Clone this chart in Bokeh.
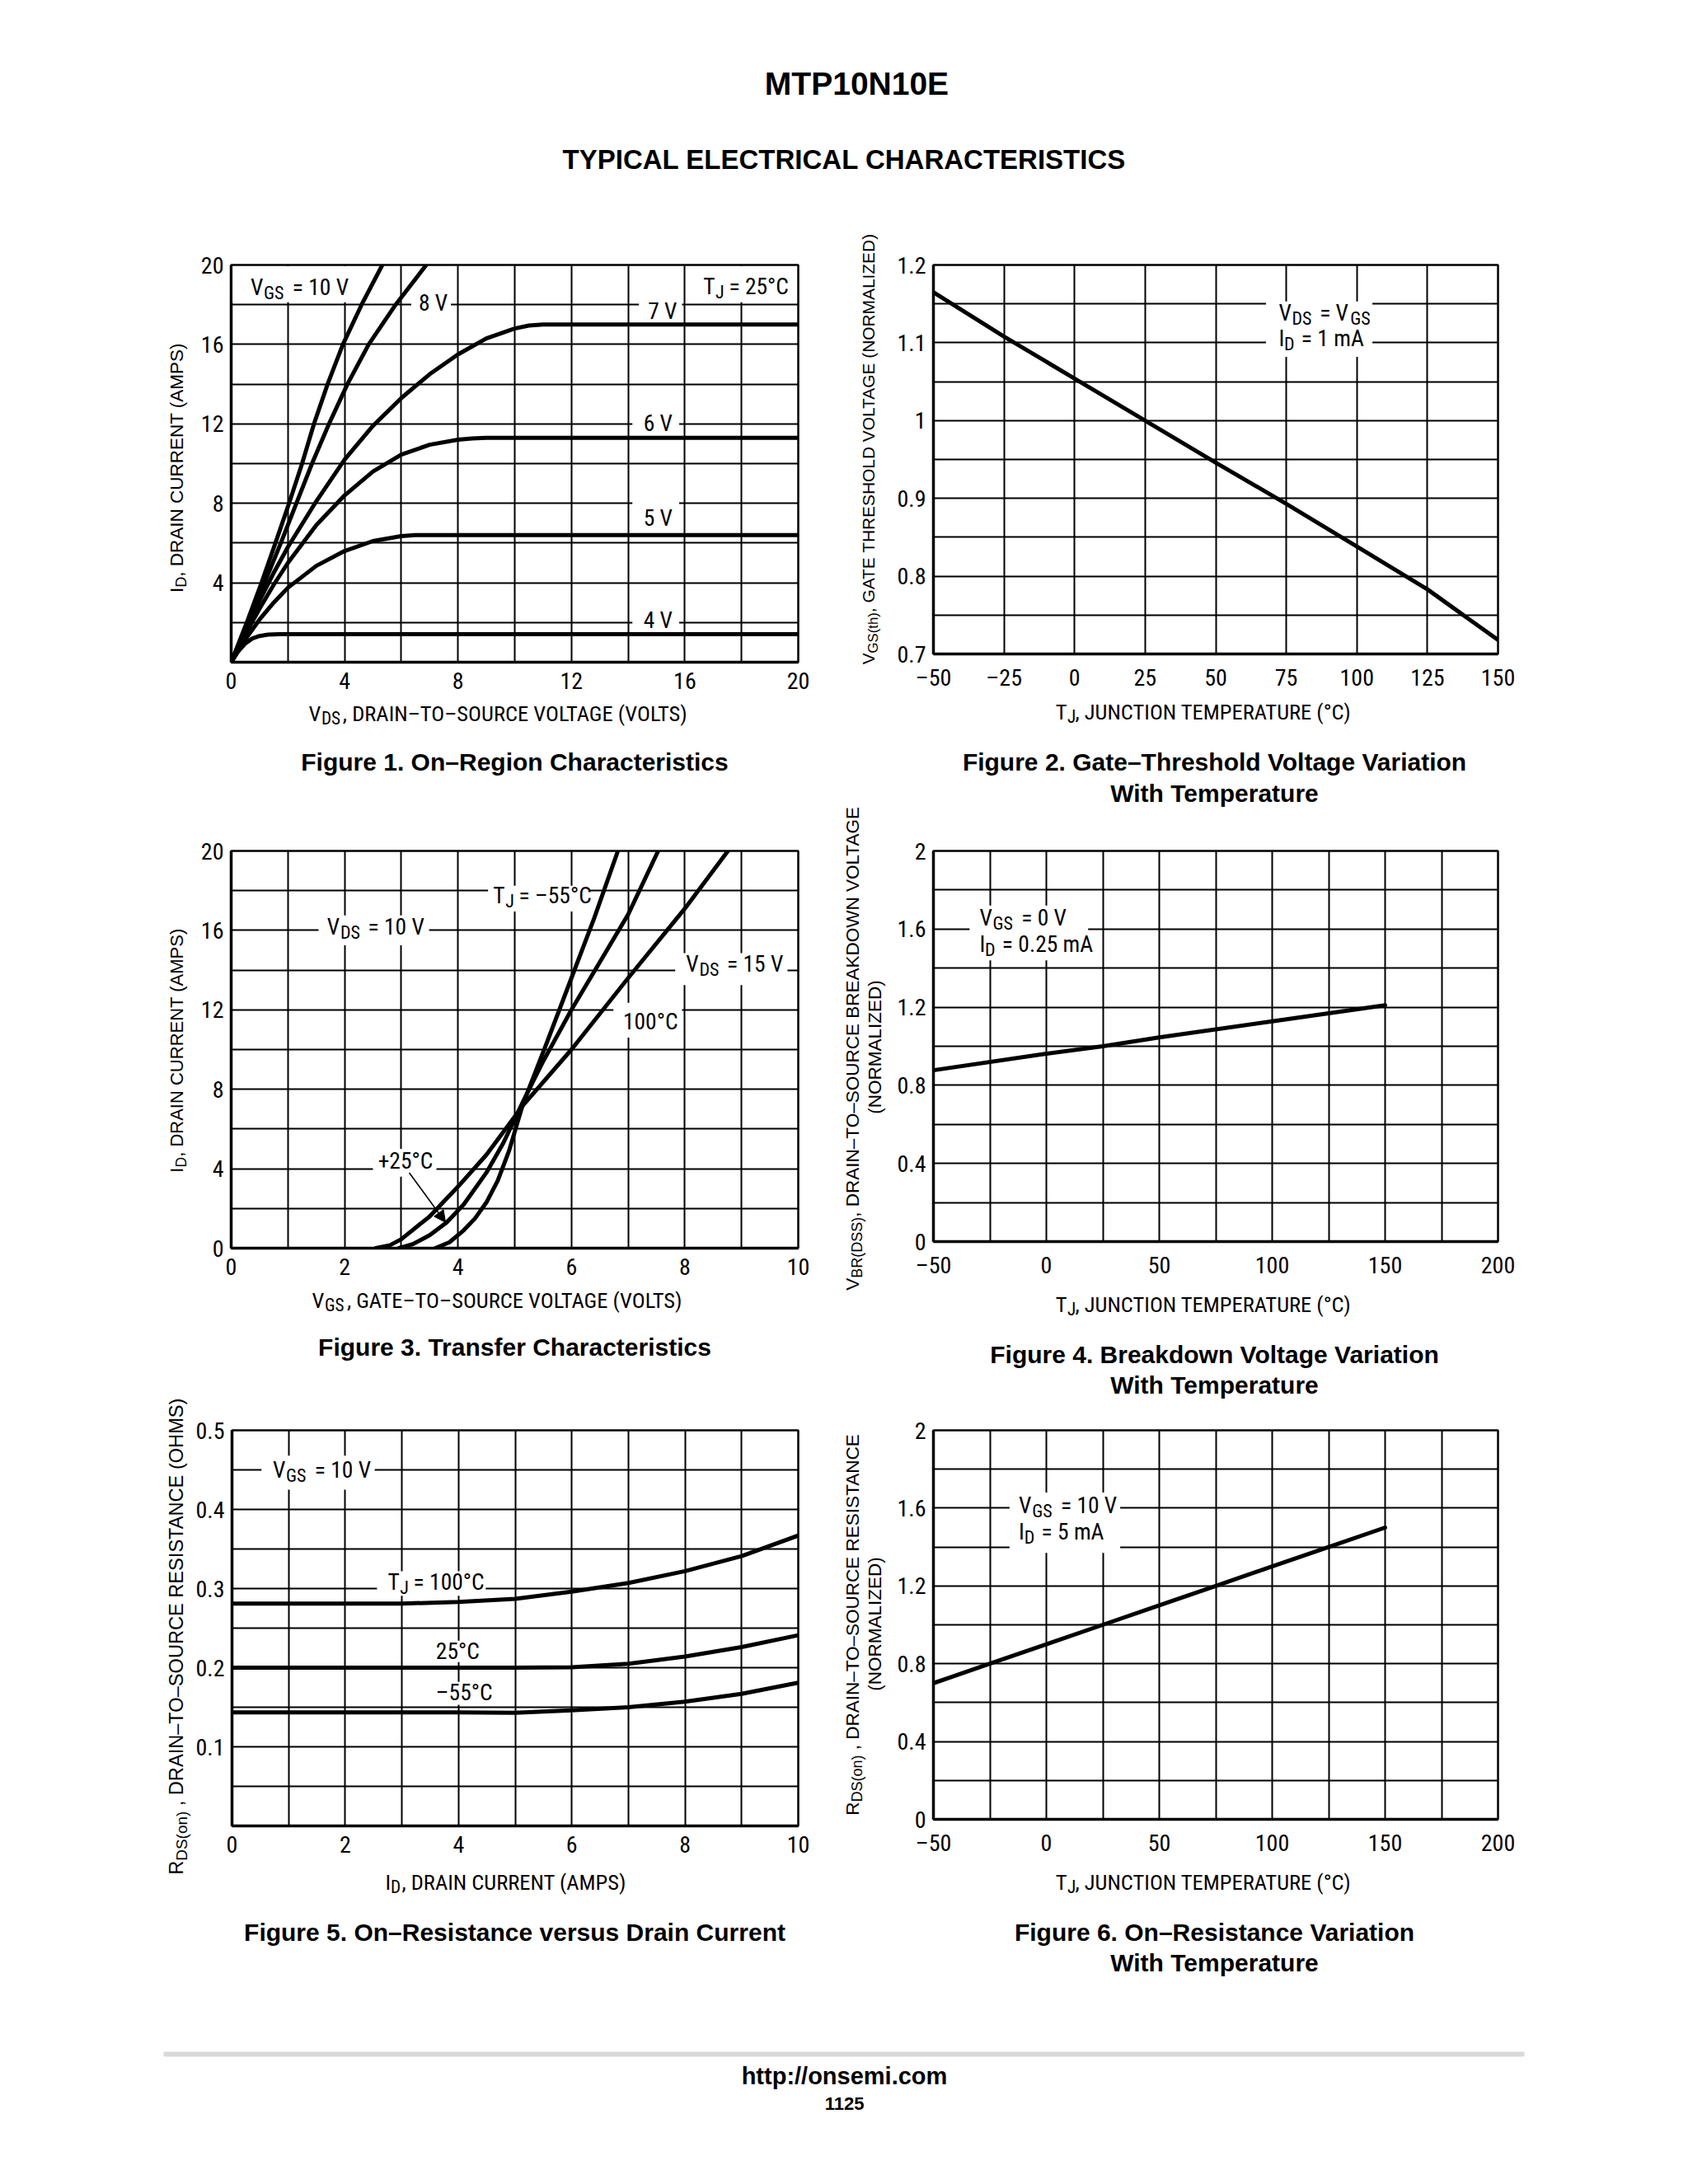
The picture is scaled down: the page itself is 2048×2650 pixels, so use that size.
import subprocess
from math import pi

from bokeh.plotting import figure
from bokeh.models import FixedTicker, Range1d, Label, BoxAnnotation, Arrow, NormalHead
from bokeh.layouts import column, row
from bokeh.embed import file_html
from bokeh.resources import INLINE

# ======================= DATA =======================
# Figure 1. On-Region Characteristics (TJ = 25 C): VDS (V) -> ID (A)
f1_vgs10_vds = [0, 0.55, 1.07, 1.56, 2.04, 2.5, 2.92, 3.4, 3.94, 4.6, 5.33]
f1_vgs10_id = [0, 2, 4, 6, 8, 10, 12, 14, 16, 18, 20]
f1_vgs8_vds = [0, 0.6, 1.18, 1.75, 2.3, 2.85, 3.45, 4.1, 4.85, 5.8, 6.88]
f1_vgs8_id = [0, 2, 4, 6, 8, 10, 12, 14, 16, 18, 20]
f1_vgs7_vds = [0, 0.5, 1, 1.5, 2, 3, 4, 5, 6, 7, 8, 9, 10, 10.5, 11, 12, 20]
f1_vgs7_id = [0, 1.6, 3.1, 4.5, 5.8, 8.1, 10.2, 11.9, 13.3, 14.5, 15.5, 16.3, 16.8, 16.95, 17.0, 17.0, 17.0]
f1_vgs6_vds = [0, 0.5, 1, 1.5, 2, 3, 4, 5, 6, 7, 8, 8.5, 9, 20]
f1_vgs6_id = [0, 1.4, 2.7, 3.9, 5.0, 6.9, 8.4, 9.6, 10.45, 10.95, 11.2, 11.27, 11.3, 11.3]
f1_vgs5_vds = [0, 0.5, 1, 1.5, 2, 3, 4, 5, 6, 6.5, 20]
f1_vgs5_id = [0, 1.15, 2.15, 3.0, 3.75, 4.85, 5.6, 6.1, 6.35, 6.4, 6.4]
f1_vgs4_vds = [0, 0.25, 0.5, 0.75, 1.0, 1.3, 1.7, 20]
f1_vgs4_id = [0, 0.55, 0.95, 1.2, 1.32, 1.39, 1.41, 1.41]

# Figure 2. Gate-Threshold Voltage Variation With Temperature
f2_tj = [-50, -25, 0, 25, 50, 75, 100, 125, 150]
f2_vth = [1.165, 1.108, 1.054, 1.0, 0.946, 0.893, 0.838, 0.783, 0.718]

# Figure 3. Transfer Characteristics: VGS (V) -> ID (A)
f3_m55_vgs = [3.6, 3.85, 4.1, 4.3, 4.5, 4.7, 4.9, 5.15, 5.56, 6.0, 6.4, 6.82]
f3_m55_id = [0, 0.3, 0.9, 1.5, 2.3, 3.4, 4.9, 7.3, 10.3, 13.6, 16.6, 20]
f3_25_vgs = [2.96, 3.2, 3.5, 3.8, 4.1, 4.5, 4.8, 5.15, 5.5, 6.0, 6.5, 7.0, 7.53]
f3_25_id = [0, 0.2, 0.65, 1.3, 2.2, 3.8, 5.3, 7.4, 9.4, 12.0, 14.4, 16.8, 20]
f3_100_vgs = [2.55, 2.8, 3.0, 3.5, 4.0, 4.5, 5.15, 6.0, 7.0, 8.0, 8.76]
f3_100_id = [0, 0.15, 0.45, 1.6, 3.1, 4.7, 7.2, 10.0, 13.6, 17.1, 20]

# Figure 4. Breakdown Voltage Variation With Temperature
f4_tj = [-50, 0, 25, 50, 100, 150]
f4_bvdss = [0.877, 0.962, 1.0, 1.045, 1.128, 1.21]

# Figure 5. On-Resistance versus Drain Current (VGS = 10 V)
f5_id = [0, 1, 2, 3, 4, 5, 6, 7, 8, 9, 10]
f5_r100 = [0.281, 0.281, 0.281, 0.281, 0.283, 0.287, 0.296, 0.307, 0.322, 0.341, 0.367]
f5_r25 = [0.2, 0.2, 0.2, 0.2, 0.2, 0.2, 0.2005, 0.205, 0.214, 0.226, 0.241]
f5_rm55 = [0.1435, 0.1435, 0.1435, 0.1435, 0.1435, 0.143, 0.146, 0.150, 0.157, 0.167, 0.181]

# Figure 6. On-Resistance Variation With Temperature
f6_tj = [-50, -25, 0, 25, 50, 75, 100, 125, 150]
f6_rds = [0.70, 0.80, 0.90, 1.0, 1.1, 1.2, 1.3, 1.4, 1.5]

# Axis ticks / tick labels / grid positions
f1_xticks = [0, 4, 8, 12, 16, 20]
f1_xlabels = ["0", "4", "8", "12", "16", "20"]
f1_yticks = [4, 8, 12, 16, 20]
f1_ylabels = ["4", "8", "12", "16", "20"]
f1_xgrid = [0, 2, 4, 6, 8, 10, 12, 14, 16, 18, 20]
f1_ygrid = [0, 2, 4, 6, 8, 10, 12, 14, 16, 18, 20]

f2_xticks = [-50, -25, 0, 25, 50, 75, 100, 125, 150]
f2_xlabels = ["–50", "–25", "0", "25", "50", "75", "100", "125", "150"]
f2_yticks = [0.7, 0.8, 0.9, 1, 1.1, 1.2]
f2_ylabels = ["0.7", "0.8", "0.9", "1", "1.1", "1.2"]
f2_xgrid = [-50, -25, 0, 25, 50, 75, 100, 125, 150]
f2_ygrid = [0.7, 0.75, 0.8, 0.85, 0.9, 0.95, 1.0, 1.05, 1.1, 1.15, 1.2]

f3_xticks = [0, 2, 4, 6, 8, 10]
f3_xlabels = ["0", "2", "4", "6", "8", "10"]
f3_yticks = [0, 4, 8, 12, 16, 20]
f3_ylabels = ["0", "4", "8", "12", "16", "20"]
f3_xgrid = [0, 1, 2, 3, 4, 5, 6, 7, 8, 9, 10]
f3_ygrid = [0, 2, 4, 6, 8, 10, 12, 14, 16, 18, 20]

f46_xticks = [-50, 0, 50, 100, 150, 200]
f46_xlabels = ["–50", "0", "50", "100", "150", "200"]
f46_yticks = [0, 0.4, 0.8, 1.2, 1.6, 2]
f46_ylabels = ["0", "0.4", "0.8", "1.2", "1.6", "2"]
f46_xgrid = [-50, -25, 0, 25, 50, 75, 100, 125, 150, 175, 200]
f46_ygrid = [0, 0.2, 0.4, 0.6, 0.8, 1.0, 1.2, 1.4, 1.6, 1.8, 2.0]

f5_xticks = [0, 2, 4, 6, 8, 10]
f5_xlabels = ["0", "2", "4", "6", "8", "10"]
f5_yticks = [0.1, 0.2, 0.3, 0.4, 0.5]
f5_ylabels = ["0.1", "0.2", "0.3", "0.4", "0.5"]
f5_xgrid = [0, 1, 2, 3, 4, 5, 6, 7, 8, 9, 10]
f5_ygrid = [0, 0.05, 0.1, 0.15, 0.2, 0.25, 0.3, 0.35, 0.4, 0.45, 0.5]

# ======================= FONTS =======================
def _families():
    fams = set()
    try:
        out = subprocess.run(["fc-list", ":", "family"], capture_output=True,
                             text=True, timeout=30).stdout
        for line in out.splitlines():
            for f in line.split(","):
                fams.add(f.strip().lower())
    except Exception:
        pass
    return fams


_fams = _families()
NARROW, NSCALE, NSIZE = "Liberation Sans", 1.0, 0.86
for _name, _sc in [("Liberation Sans Narrow", 0.82), ("Arial Narrow", 0.82),
                   ("Roboto Condensed", 0.88), ("DejaVu Sans Condensed", 0.96)]:
    if _name.lower() in _fams:
        NARROW, NSCALE, NSIZE = _name, _sc, 1.0
        break
SANS = "Liberation Sans"

AW = {' ': 278, '!': 278, '(': 333, ')': 333, ',': 278, '-': 333, '.': 278, '/': 278,
      ':': 278, '=': 584, '+': 584, '–': 556, '°': 400}
for _d in "0123456789":
    AW[_d] = 556
AW.update({'A': 667, 'B': 667, 'C': 722, 'D': 722, 'E': 667, 'F': 611, 'G': 778, 'H': 722,
           'I': 278, 'J': 500, 'K': 667, 'L': 556, 'M': 833, 'N': 722, 'O': 778, 'P': 667,
           'Q': 778, 'R': 722, 'S': 667, 'T': 611, 'U': 722, 'V': 667, 'W': 944, 'X': 667,
           'Y': 667, 'Z': 611, 'a': 556, 'b': 556, 'c': 500, 'd': 556, 'e': 556, 'f': 278,
           'g': 556, 'h': 556, 'i': 222, 'j': 222, 'k': 500, 'l': 222, 'm': 833, 'n': 556,
           'o': 556, 'p': 556, 'q': 556, 'r': 333, 's': 500, 't': 278, 'u': 556, 'v': 500,
           'w': 722, 'x': 500, 'y': 500, 'z': 500})


def tw(s, size, scale=1.0):
    return sum(AW.get(ch, 556) for ch in s) * size * scale / 1000.0


SUB_R = 0.8
SUB_DY = 0.25
BASE_FIX = 0.27           # measured baseline correction (fraction of font size)
TICK_SIZE = 28 * NSIZE
ANN_SIZE = 27.5 * NSIZE
XLAB_SIZE = 26.5 * NSIZE
CAP_SIZE = 30


def no_align(f):
    try:
        f.frame_align = False
    except Exception:
        pass


def put_runs(p, x, y, runs, size, font, scale, angle=0.0, anchor="left"):
    widths = []
    for t, sub in runs:
        fs = size * SUB_R if sub else size
        widths.append(tw(t, fs, scale))
    total = sum(widths)
    pos = -total / 2.0 if anchor == "center" else 0.0
    fix = size * BASE_FIX
    for (t, sub), w in zip(runs, widths):
        fs = size * SUB_R if sub else size
        drop = size * SUB_DY if sub else 0.0
        stripped = t.lstrip(" ")
        lead = tw(" " * (len(t) - len(stripped)), fs, scale)
        if angle == 0:
            xo, yo = pos + lead, -drop + fix
        else:
            xo, yo = drop - fix, pos + lead
        p.add_layout(Label(x=x, y=y, x_offset=xo, y_offset=yo,
                           text=stripped, angle=angle, text_font=font,
                           text_font_size=f"{fs:.1f}px", text_color="black",
                           text_align="left", text_baseline="alphabetic"))
        pos += w


def strip(w, h, bl=0, br=0):
    """A text-only panel whose data coordinates are its own (frame) pixels."""
    fw = w - bl - br
    f = figure(width=w, height=h, x_range=Range1d(0, fw), y_range=Range1d(0, h),
               output_backend="svg", toolbar_location=None, title=None,
               x_axis_type=None, y_axis_type=None, min_border=0,
               min_border_left=bl, min_border_right=br)
    f.outline_line_color = None
    f.background_fill_color = "white"
    f.border_fill_color = "white"
    no_align(f)
    return f


def make_plot(w, h, bl, br, bt, bb, xr, yr, xgrid, ygrid, xticks, xtl, yticks, ytl):
    p = figure(width=w, height=h, x_range=Range1d(*xr), y_range=Range1d(*yr),
               output_backend="svg", toolbar_location=None, title=None,
               min_border_left=bl, min_border_right=br, min_border_top=bt,
               min_border_bottom=bb)
    no_align(p)
    p.background_fill_color = "white"
    p.border_fill_color = "white"
    p.outline_line_color = "black"
    p.outline_line_width = 2.5
    p.outline_line_alpha = 1.0
    p.xaxis.ticker = FixedTicker(ticks=xticks, minor_ticks=[])
    p.yaxis.ticker = FixedTicker(ticks=yticks, minor_ticks=[])
    p.xaxis.major_label_overrides = dict(zip(xticks, xtl))
    p.yaxis.major_label_overrides = dict(zip(yticks, ytl))
    for ax in (p.xaxis[0], p.yaxis[0]):
        ax.major_tick_line_color = None
        ax.minor_tick_line_color = None
        ax.major_tick_in = 0
        ax.major_tick_out = 0
        ax.axis_line_width = 3.5
        ax.axis_line_color = "black"
        ax.major_label_text_font = NARROW
        ax.major_label_text_font_size = f"{TICK_SIZE:.1f}px"
        ax.major_label_text_color = "black"
    p.xaxis.major_label_standoff = 12
    p.yaxis.major_label_standoff = 9
    p.xgrid.ticker = FixedTicker(ticks=xgrid, minor_ticks=[])
    p.ygrid.ticker = FixedTicker(ticks=ygrid, minor_ticks=[])
    p.grid.grid_line_color = "black"
    p.grid.grid_line_width = 2
    p.grid.grid_line_alpha = 1.0
    return p


def curve(p, x, y):
    p.line(x, y, line_width=5, line_color="black", line_join="round", line_cap="round")


def white_box(p, l, r, b, t):
    p.add_layout(BoxAnnotation(left=l, right=r, bottom=b, top=t, fill_color="white",
                               fill_alpha=1.0, line_color=None))


def ann(p, x, y, runs):
    put_runs(p, x, y, runs, ANN_SIZE, NARROW, NSCALE)


FRAME_W = 688


def bottom_panel(w, h, bl, br, xlab_runs, xlab_y, captions):
    b = strip(w, h, bl, br)
    cx = FRAME_W / 2.0
    put_runs(b, cx, xlab_y, xlab_runs, XLAB_SIZE, NARROW, NSCALE, anchor="center")
    for t, yy in captions:
        b.add_layout(Label(x=cx, y=yy, text=t, text_align="center", text_baseline="middle",
                           text_font=SANS, text_font_style="bold",
                           text_font_size=f"{CAP_SIZE}px", text_color="black"))
    return b


def ylabel_panel(w, h, lines):
    f = strip(w, h)
    for runs, x, cy, size in lines:
        put_runs(f, x, cy, runs, size, SANS, 1.0, angle=pi / 2, anchor="center")
    return f


# Geometry (pixels)
COL_H = 2190              # height of each column of plots
LW_Y, LW_P = 234, 774     # left column: y-label strip, plot figures
RW_Y, RW_P = 77, 955      # right column
L_BL, L_BR = 46, 40
R_BL, R_BR = 44, 223
AX_B = 40                 # room for x tick labels under each frame

# ======================= FIGURE 1 =======================
p1 = make_plot(LW_P, 613, L_BL, L_BR, 91, AX_B, (0, 20), (0, 20), f1_xgrid, f1_ygrid,
               f1_xticks, f1_xlabels, f1_yticks, f1_ylabels)
for xs, ys in [(f1_vgs10_vds, f1_vgs10_id), (f1_vgs8_vds, f1_vgs8_id), (f1_vgs7_vds, f1_vgs7_id),
               (f1_vgs6_vds, f1_vgs6_id), (f1_vgs5_vds, f1_vgs5_id), (f1_vgs4_vds, f1_vgs4_id)]:
    curve(p1, xs, ys)
for bx in [(0.05, 4.15, 18.12, 19.94), (6.35, 7.75, 17.55, 18.6), (14.38, 15.9, 17.2, 18.35),
           (14.15, 15.8, 11.55, 12.5), (14.15, 15.8, 6.75, 8.2), (14.15, 15.8, 1.65, 2.7),
           (16.4, 19.95, 18.12, 19.94)]:
    white_box(p1, *bx)
ann(p1, 0.68, 18.58, [("V", 0), ("GS", 1), (" = 10 V", 0)])
ann(p1, 6.61, 17.79, [("8 V", 0)])
ann(p1, 14.7, 17.35, [("7 V", 0)])
ann(p1, 14.54, 11.73, [("6 V", 0)])
ann(p1, 14.54, 6.97, [("5 V", 0)])
ann(p1, 14.54, 1.82, [("4 V", 0)])
ann(p1, 16.65, 18.62, [("T", 0), ("J", 1), (" = 25°C", 0)])
b1 = bottom_panel(LW_P, 132, L_BL, L_BR,
                  [("V", 0), ("DS", 1), (", DRAIN–TO–SOURCE VOLTAGE (VOLTS)", 0)],
                  103, [("Figure 1. On–Region Characteristics", 51)])

# ======================= FIGURE 2 =======================
p2 = make_plot(RW_P, 611, R_BL, R_BR, 91, AX_B, (-50, 150), (0.7, 1.2), f2_xgrid, f2_ygrid,
               f2_xticks, f2_xlabels, f2_yticks, f2_ylabels)
curve(p2, f2_tj, f2_vth)
white_box(p2, 67.8, 105.5, 1.082, 1.153)
ann(p2, 72.3, 1.1305, [("V", 0), ("DS", 1), (" = V", 0), ("GS", 1)])
ann(p2, 72.3, 1.0978, [("I", 0), ("D", 1), (" = 1 mA", 0)])
b2 = bottom_panel(RW_P, 141, R_BL, R_BR,
                  [("T", 0), ("J", 1), (", JUNCTION TEMPERATURE (°C)", 0)],
                  112, [("Figure 2. Gate–Threshold Voltage Variation", 58),
                        ("With Temperature", 20)])

# ======================= FIGURE 3 =======================
p3 = make_plot(LW_P, 579, L_BL, L_BR, 57, AX_B, (0, 10), (0, 20), f3_xgrid, f3_ygrid,
               f3_xticks, f3_xlabels, f3_yticks, f3_ylabels)
curve(p3, f3_m55_vgs, f3_m55_id)
curve(p3, f3_25_vgs, f3_25_id)
curve(p3, f3_100_vgs, f3_100_id)
for bx in [(4.53, 6.33, 16.95, 18.25), (1.54, 3.49, 15.25, 16.75), (7.83, 9.81, 13.25, 14.85),
           (6.74, 7.95, 10.6, 12.35), (2.5, 3.62, 3.6, 5.0)]:
    white_box(p3, *bx)
ann(p3, 4.62, 17.45, [("T", 0), ("J", 1), (" = –55°C", 0)])
ann(p3, 1.69, 15.88, [("V", 0), ("DS", 1), (" = 10 V", 0)])
ann(p3, 8.02, 14.02, [("V", 0), ("DS", 1), (" = 15 V", 0)])
ann(p3, 6.91, 11.1, [("100°C", 0)])
ann(p3, 2.59, 4.07, [("+25°C", 0)])
p3.add_layout(Arrow(end=NormalHead(size=14, fill_color="black", line_color="black", line_width=1),
                    x_start=3.14, y_start=3.8, x_end=3.78, y_end=1.3,
                    line_width=1.6, line_color="black"))
b3 = bottom_panel(LW_P, 126, L_BL, L_BR,
                  [("V", 0), ("GS", 1), (", GATE–TO–SOURCE VOLTAGE (VOLTS)", 0)],
                  96, [("Figure 3. Transfer Characteristics", 46)])

# ======================= FIGURE 4 =======================
p4 = make_plot(RW_P, 572, R_BL, R_BR, 50, AX_B, (-50, 200), (0, 2), f46_xgrid, f46_ygrid,
               f46_xticks, f46_xlabels, f46_yticks, f46_ylabels)
curve(p4, f4_tj, f4_bvdss)
white_box(p4, -34, 18.5, 1.44, 1.72)
ann(p4, -29.6, 1.625, [("V", 0), ("GS", 1), (" = 0 V", 0)])
ann(p4, -29.6, 1.49, [("I", 0), ("D", 1), (" = 0.25 mA", 0)])
b4 = bottom_panel(RW_P, 156, R_BL, R_BR,
                  [("T", 0), ("J", 1), (", JUNCTION TEMPERATURE (°C)", 0)],
                  121, [("Figure 4. Breakdown Voltage Variation", 67),
                        ("With Temperature", 30)])

# ======================= FIGURE 5 =======================
p5 = make_plot(LW_P, 575, L_BL, L_BR, 55, AX_B, (0, 10), (0, 0.5), f5_xgrid, f5_ygrid,
               f5_xticks, f5_xlabels, f5_yticks, f5_ylabels)
curve(p5, f5_id, f5_r100)
curve(p5, f5_id, f5_r25)
curve(p5, f5_id, f5_rm55)
for bx in [(0.52, 2.52, 0.425, 0.468), (2.56, 4.48, 0.291, 0.322), (3.5, 4.45, 0.207, 0.234),
           (3.5, 4.55, 0.153, 0.182)]:
    white_box(p5, *bx)
ann(p5, 0.72, 0.442, [("V", 0), ("GS", 1), (" = 10 V", 0)])
ann(p5, 2.75, 0.3007, [("T", 0), ("J", 1), (" = 100°C", 0)])
ann(p5, 3.6, 0.2128, [("25°C", 0)])
ann(p5, 3.6, 0.1613, [("–55°C", 0)])
b5 = bottom_panel(LW_P, 165, L_BL, L_BR,
                  [("I", 0), ("D", 1), (", DRAIN CURRENT (AMPS)", 0)],
                  130, [("Figure 5. On–Resistance versus Drain Current", 76)])

# ======================= FIGURE 6 =======================
p6 = make_plot(RW_P, 545, R_BL, R_BR, 25, AX_B, (-50, 200), (0, 2), f46_xgrid, f46_ygrid,
               f46_xticks, f46_xlabels, f46_yticks, f46_ylabels)
curve(p6, f6_tj, f6_rds)
white_box(p6, -16.3, 32.7, 1.37, 1.68)
ann(p6, -12.2, 1.583, [("V", 0), ("GS", 1), (" = 10 V", 0)])
ann(p6, -12.2, 1.448, [("I", 0), ("D", 1), (" = 5 mA", 0)])
b6 = bottom_panel(RW_P, 165, R_BL, R_BR,
                  [("T", 0), ("J", 1), (", JUNCTION TEMPERATURE (°C)", 0)],
                  130, [("Figure 6. On–Resistance Variation", 76),
                        ("With Temperature", 39)])

# ======================= Y-AXIS TITLES (one strip per column) =======================
yL = ylabel_panel(LW_Y, COL_H, [
    ([("I", 0), ("D", 1), (", DRAIN CURRENT (AMPS)", 0)], 220, 1853, 22.5),
    ([("I", 0), ("D", 1), (", DRAIN CURRENT (AMPS)", 0)], 220, 1146, 22.0),
    ([("R", 0), ("DS(on)", 1), (" , DRAIN–TO–SOURCE RESISTANCE (OHMS)", 0)], 220, 436, 23.6),
])
yR = ylabel_panel(RW_Y, COL_H, [
    ([("V", 0), ("GS(th)", 1), (", GATE THRESHOLD VOLTAGE (NORMALIZED)", 0)], 51, 1878, 20.9),
    ([("V", 0), ("BR(DSS)", 1), (", DRAIN–TO–SOURCE BREAKDOWN VOLTAGE", 0)], 32, 1150, 22.5),
    ([("(NORMALIZED)", 0)], 59, 1150, 22.5),
    ([("R", 0), ("DS(on)", 1), (" , DRAIN–TO–SOURCE RESISTANCE", 0)], 32, 450, 22.5),
    ([("(NORMALIZED)", 0)], 59, 450, 22.5),
])

# ======================= HEADER / FOOTER =======================
PAGE_W = 2040
hdr = strip(PAGE_W, 230)
hdr.add_layout(Label(x=1039, y=129, text="MTP10N10E", text_align="center",
                     text_baseline="middle", text_font=SANS, text_font_style="bold",
                     text_font_size="39px", text_color="black"))
hdr.add_layout(Label(x=1024, y=37, text="TYPICAL ELECTRICAL CHARACTERISTICS",
                     text_align="center", text_baseline="middle", text_font=SANS,
                     text_font_style="bold", text_font_size="33px", text_color="black"))

ftr = strip(PAGE_W, 180)
ftr.add_layout(BoxAnnotation(left=198, right=1849, bottom=105, top=111, fill_color="#d9d9d9",
                             fill_alpha=1.0, line_color=None))
ftr.add_layout(Label(x=1024, y=82, text="http://onsemi.com", text_align="center",
                     text_baseline="middle", text_font=SANS, text_font_style="bold",
                     text_font_size="29px", text_color="black"))
ftr.add_layout(Label(x=1024, y=48, text="1125", text_align="center",
                     text_baseline="middle", text_font=SANS, text_font_style="bold",
                     text_font_size="22px", text_color="black"))

left_col = row(yL, column(p1, b1, p3, b3, p5, b5))
right_col = row(yR, column(p2, b2, p4, b4, p6, b6))
layout = column(hdr, row(left_col, right_col), ftr)

open("out.html", "w").write(file_html(layout, INLINE, title="MTP10N10E"))
